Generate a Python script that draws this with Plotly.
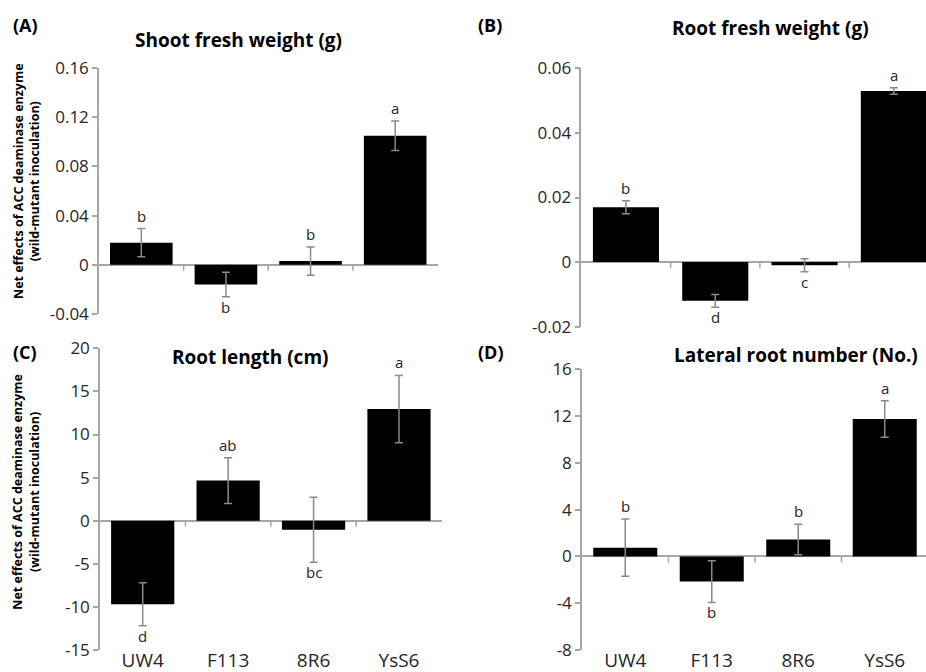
import plotly.graph_objects as go

# Strains on the x axis
strains = ["UW4", "F113", "8R6", "YsS6"]

# Net effects (wild - mutant inoculation) with standard errors and significance letters
shoot_fw = [0.018, -0.016, 0.003, 0.105]
shoot_fw_se = [0.0115, 0.010, 0.0114, 0.012]
shoot_fw_sig = ["b", "b", "b", "a"]
shoot_fw_ticks = [-0.04, 0, 0.04, 0.08, 0.12, 0.16]
shoot_fw_ticktext = ["-0.04", "0", "0.04", "0.08", "0.12", "0.16"]

root_fw = [0.017, -0.012, -0.001, 0.053]
root_fw_se = [0.002, 0.002, 0.002, 0.001]
root_fw_sig = ["b", "d", "c", "a"]
root_fw_ticks = [-0.02, 0, 0.02, 0.04, 0.06]
root_fw_ticktext = ["-0.02", "0", "0.02", "0.04", "0.06"]

root_len = [-9.7, 4.65, -1.05, 12.95]
root_len_se = [2.5, 2.65, 3.77, 3.9]
root_len_sig = ["d", "ab", "bc", "a"]
root_len_ticks = [-15, -10, -5, 0, 5, 10, 15, 20]
root_len_ticktext = ["-15", "-10", "-5", "0", "5", "10", "15", "20"]

lat_root = [0.75, -2.15, 1.45, 11.75]
lat_root_se = [2.45, 1.78, 1.31, 1.56]
lat_root_sig = ["b", "b", "b", "a"]
lat_root_ticks = [-8, -4, 0, 4, 8, 12, 16]
lat_root_ticktext = ["-8", "-4", "0", "4", "8", "12", "16"]

FONT = "Open Sans"
AXIS_GREY = "#a6a6a6"
ERR_GREY = "#8a8a8a"
TEXT = "#262626"

panels = [
    dict(key="A", title="Shoot fresh weight (g)", vals=shoot_fw, se=shoot_fw_se, sig=shoot_fw_sig,
         tickvals=shoot_fw_ticks, ticktext=shoot_fw_ticktext,
         xdom=[99 / 926, 437.5 / 926], ydom=[1 - 314 / 672, 1 - 68 / 672],
         xrange=[-0.5, 3.5], xlabels=False,
         tag_xy=(25 / 926, 1 - 25 / 672), title_xy=(238 / 926, 1 - 40 / 672)),
    dict(key="B", title="Root fresh weight (g)", vals=root_fw, se=root_fw_se, sig=root_fw_sig,
         tickvals=root_fw_ticks, ticktext=root_fw_ticktext,
         xdom=[581.3 / 926, 1.0], ydom=[1 - 326.7 / 672, 1 - 68.3 / 672],
         xrange=[-0.5, 3.36], xlabels=False,
         tag_xy=(489.5 / 926, 1 - 25 / 672), title_xy=(770 / 926, 1 - 28 / 672)),
    dict(key="C", title="Root length (cm)", vals=root_len, se=root_len_se, sig=root_len_sig,
         tickvals=root_len_ticks, ticktext=root_len_ticktext,
         xdom=[100 / 926, 441.7 / 926], ydom=[1 - 650 / 672, 1 - 348.3 / 672],
         xrange=[-0.5, 3.5], xlabels=True,
         tag_xy=(25 / 926, 1 - 352 / 672), title_xy=(250 / 926, 1 - 356.7 / 672)),
    dict(key="D", title="Lateral root number (No.)", vals=lat_root, se=lat_root_se, sig=lat_root_sig,
         tickvals=lat_root_ticks, ticktext=lat_root_ticktext,
         xdom=[582 / 926, 1.0], ydom=[1 - 650 / 672, 1 - 369.3 / 672],
         xrange=[-0.5, 3.477], xlabels=True,
         tag_xy=(491 / 926, 1 - 352 / 672), title_xy=(796 / 926, 1 - 355 / 672)),
]

fig = go.Figure()
annotations = []
shapes = []

for i, p in enumerate(panels):
    n = "" if i == 0 else str(i + 1)
    xa, ya = "x" + n, "y" + n
    fig.add_trace(go.Bar(
        x=strains, y=p["vals"], xaxis=xa, yaxis=ya,
        marker=dict(color="black", line=dict(width=0)),
        error_y=dict(type="data", array=p["se"], visible=True,
                     color=ERR_GREY, thickness=1.5, width=4),
        showlegend=False,
    ))

    fig.update_layout(**{
        "xaxis" + n: dict(
            domain=p["xdom"], anchor=ya, type="category", range=p["xrange"],
            showline=False, showgrid=False, zeroline=False, ticks="",
            showticklabels=p["xlabels"], tickfont=dict(family=FONT, size=19, color=TEXT),
            ticklabelstandoff=-3, automargin=False, fixedrange=True,
        ),
        "yaxis" + n: dict(
            domain=p["ydom"], anchor=xa,
            range=[p["tickvals"][0], p["tickvals"][-1]],
            tickmode="array", tickvals=p["tickvals"], ticktext=p["ticktext"],
            showgrid=False,
            showline=True, linecolor=AXIS_GREY, linewidth=1.5,
            ticks="outside", ticklen=5, tickwidth=1.5, tickcolor=AXIS_GREY,
            zeroline=True, zerolinecolor=AXIS_GREY, zerolinewidth=1.5,
            tickfont=dict(family=FONT, size=17, color=TEXT),
            automargin=False, fixedrange=True,
        ),
    })

    # small tick marks between categories hanging below the zero line
    for k in range(len(strains) - 1):
        shapes.append(dict(
            type="line", xref=xa, yref=ya, x0=k + 0.5, x1=k + 0.5,
            ysizemode="pixel", yanchor=0, y0=0, y1=-6,
            line=dict(color=AXIS_GREY, width=1.5),
        ))

    # significance letters above/below the error bars
    for s, v, e, letter in zip(strains, p["vals"], p["se"], p["sig"]):
        up = v >= 0
        annotations.append(dict(
            x=s, y=v + e if up else v - e, xref=xa, yref=ya,
            xanchor="center", yanchor="middle",
            text=letter, showarrow=False, yshift=13 if up else -10,
            font=dict(family=FONT, size=15, color=TEXT),
        ))

    annotations.append(dict(
        x=p["tag_xy"][0], y=p["tag_xy"][1], xref="paper", yref="paper",
        xanchor="center", yanchor="middle",
        text="<b>(%s)</b>" % p["key"], showarrow=False,
        font=dict(family=FONT, size=18, color="black"),
    ))
    annotations.append(dict(
        x=p["title_xy"][0], y=p["title_xy"][1], xref="paper", yref="paper",
        xanchor="center", yanchor="middle",
        text="<b>%s</b>" % p["title"], showarrow=False,
        font=dict(family=FONT, size=19, color="black"),
    ))

# shared y-axis caption for the left column
for yc in (1 - 181 / 672, 1 - 491.7 / 672):
    annotations.append(dict(
        x=26 / 926, y=yc, xref="paper", yref="paper", textangle=-90,
        xanchor="center", yanchor="middle",
        text="<b>Net effects of ACC deaminase enzyme<br>(wild-mutant inoculation)</b>",
        showarrow=False, font=dict(family=FONT, size=12.5, color="black"),
    ))

fig.update_layout(
    width=926, height=672,
    margin=dict(l=0, r=0, t=0, b=0),
    paper_bgcolor="white", plot_bgcolor="white",
    bargap=0.26,
    annotations=annotations,
    shapes=shapes,
)

fig.write_html("out.html")
